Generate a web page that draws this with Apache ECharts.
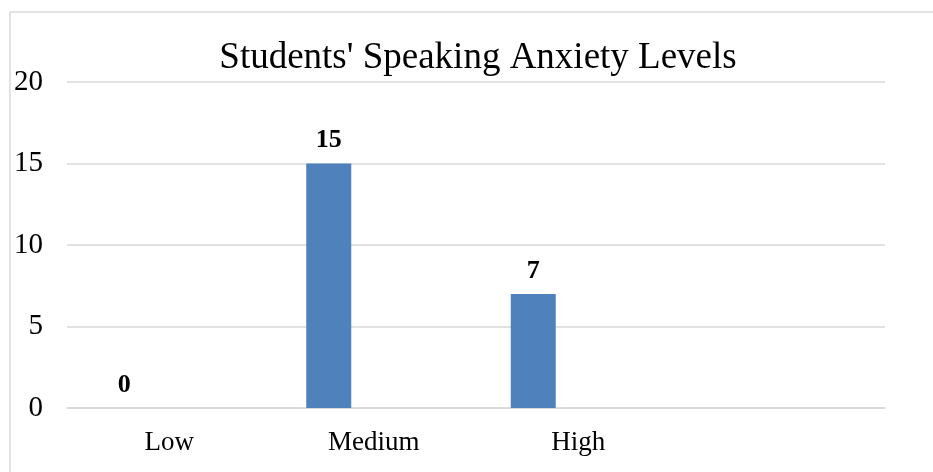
<!DOCTYPE html>
<html>
<head>
<meta charset="utf-8">
<script src="https://cdn.jsdelivr.net/npm/echarts@6/dist/echarts.min.js"></script>
<style>html,body{margin:0;padding:0;background:#fff;}#c{width:933px;height:472px;}</style>
</head>
<body>
<div id="c"></div>
<script>
const categories = ['Low', 'Medium', 'High', ''];
const anxietyCounts = [0, 15, 7, '-'];
const emptySeriesA = ['-', '-', '-', '-'];
const emptySeriesB = ['-', '-', '-', '-'];
const yTicks = { min: 0, max: 20, interval: 5 };

const serif = '"Liberation Serif", "Times New Roman", serif';
const chart = echarts.init(document.getElementById('c'));
chart.setOption({
  animation: false,
  backgroundColor: '#ffffff',
  graphic: [{
    type: 'rect',
    shape: { x: 10, y: 12, width: 1200, height: 1200 },
    style: { fill: 'none', stroke: '#d9d9d9', lineWidth: 1.5 },
    silent: true
  }],
  title: {
    text: "Students' Speaking Anxiety Levels",
    left: 473,
    textAlign: 'center',
    top: 35,
    textStyle: { fontFamily: serif, fontSize: 37, fontWeight: 'normal', color: '#000' }
  },
  grid: { left: 67, right: 48, top: 82, bottom: 64 },
  xAxis: {
    type: 'category',
    data: categories,
    axisLine: { show: true, lineStyle: { color: '#d9d9d9', width: 1.5 } },
    axisTick: { show: false },
    axisLabel: { fontFamily: serif, fontSize: 27, color: '#000', margin: 21, interval: 0 }
  },
  yAxis: {
    type: 'value',
    min: yTicks.min, max: yTicks.max, interval: yTicks.interval,
    axisLine: { show: false },
    axisTick: { show: false },
    splitLine: { lineStyle: { color: '#d9d9d9', width: 1.5 } },
    axisLabel: { fontFamily: serif, fontSize: 29, color: '#000', margin: 24 }
  },
  series: [
    {
      type: 'bar', data: anxietyCounts, barWidth: 45, barGap: '0%',
      itemStyle: { color: '#4f81bd' },
      label: { show: true, position: 'top', distance: 10, fontFamily: serif, fontSize: 26, fontWeight: 'bold', color: '#000' }
    },
    { type: 'bar', data: emptySeriesA, barWidth: 45, barGap: '0%' },
    { type: 'bar', data: emptySeriesB, barWidth: 45, barGap: '0%' }
  ]
});
</script>
</body>
</html>
